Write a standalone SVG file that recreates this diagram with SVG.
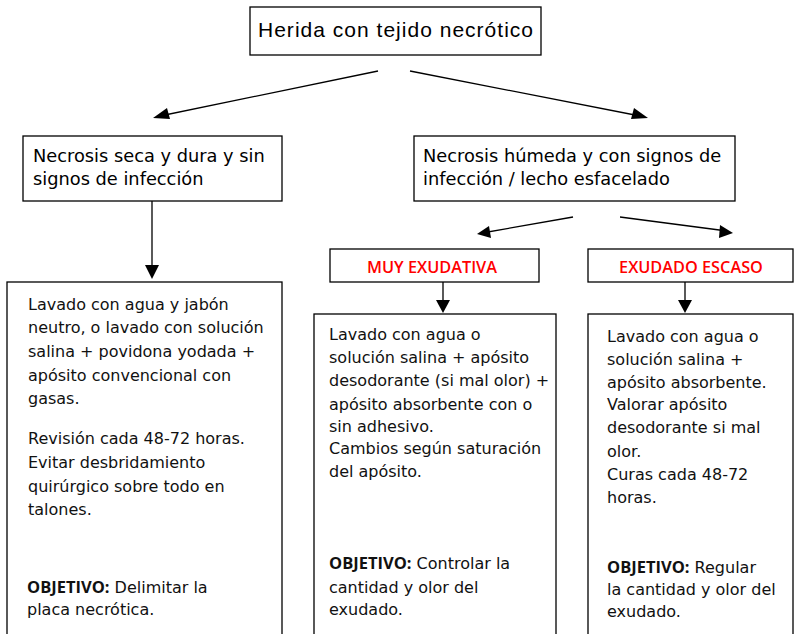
<svg xmlns="http://www.w3.org/2000/svg" width="799" height="634" viewBox="0 0 799 634">
<style>
.box{fill:#fff;stroke:#000;stroke-width:1.3}
.t1{font-family:"Liberation Sans",Arial,sans-serif;font-size:21px;fill:#000}
.t2{font-family:"DejaVu Sans",Verdana,sans-serif;font-size:17.8px;fill:#000}
.body{font-family:"DejaVu Sans",Verdana,sans-serif;font-size:16px;fill:#111}
.b{font-family:"Open Sans","Noto Sans",sans-serif;font-weight:bold;font-size:16.5px}
.red{font-family:"Open Sans","Noto Sans",sans-serif;font-weight:600;font-size:16.3px;fill:#ff0000;text-anchor:middle}
.ln{stroke:#000;stroke-width:1.3;fill:none}
</style>
<rect width="799" height="634" fill="#fff"/>
<g id="connectors">
<line class="ln" x1="378" y1="71" x2="160" y2="116"/>
<path d="M153,118 L167,108 L170,119 z" fill="#000"/>
<line class="ln" x1="410" y1="71" x2="640" y2="116"/>
<path d="M648,118 L631,119 L634,108 z" fill="#000"/>
<line class="ln" x1="152" y1="201" x2="152" y2="266"/>
<path d="M145,265 L159,265 L152,279 z" fill="#000"/>
<line class="ln" x1="573" y1="217" x2="482" y2="233"/>
<path d="M477,234 L489,226 L491,238 z" fill="#000"/>
<line class="ln" x1="620" y1="217" x2="727" y2="231"/>
<path d="M733,233 L719,238 L720,225 z" fill="#000"/>
<line class="ln" x1="443" y1="282" x2="443" y2="300"/>
<path d="M436,300 L450,300 L443,313 z" fill="#000"/>
<line class="ln" x1="685" y1="282" x2="685" y2="300"/>
<path d="M678,300 L692,300 L685,313 z" fill="#000"/>
</g>
<g id="n-herida">
<rect class="box" x="250" y="7" width="291" height="48"/>
<text class="t1" x="258" y="37" textLength="275" lengthAdjust="spacing">Herida con tejido necrótico</text>
</g>
<g id="n-seca">
<rect class="box" x="23" y="136" width="259" height="65"/>
<text class="t2" x="33" y="162">Necrosis seca y dura y sin</text>
<text class="t2" x="33" y="185">signos de infección</text>
</g>
<g id="n-humeda">
<rect class="box" x="414" y="136" width="321" height="65"/>
<text class="t2" x="423" y="162">Necrosis húmeda y con signos de</text>
<text class="t2" x="423" y="185">infección / lecho esfacelado</text>
</g>
<g id="n-muy">
<rect class="box" x="330" y="249" width="209" height="33"/>
<text class="red" x="432" y="273">MUY EXUDATIVA</text>
</g>
<g id="n-escaso">
<rect class="box" x="588" y="249" width="205" height="33"/>
<text class="red" x="691" y="273">EXUDADO ESCASO</text>
</g>
<g id="n-left-body">
<rect class="box" x="7" y="282" width="275" height="360"/>
<text class="body">
<tspan x="28" y="310">Lavado con agua y jabón</tspan>
<tspan x="28" y="333">neutro, o lavado con solución</tspan>
<tspan x="28" y="357">salina + povidona yodada +</tspan>
<tspan x="28" y="381">apósito convencional con</tspan>
<tspan x="28" y="404">gasas.</tspan>
<tspan x="28" y="444">Revisión cada 48-72 horas.</tspan>
<tspan x="28" y="468">Evitar desbridamiento</tspan>
<tspan x="28" y="492">quirúrgico sobre todo en</tspan>
<tspan x="28" y="515">talones.</tspan>
<tspan x="27" y="593"><tspan class="b">OBJETIVO:</tspan> Delimitar la</tspan>
<tspan x="27" y="615">placa necrótica.</tspan>
</text>
</g>
<g id="n-mid-body">
<rect class="box" x="314" y="314" width="242" height="330"/>
<text class="body">
<tspan x="329" y="340">Lavado con agua o</tspan>
<tspan x="329" y="363">solución salina + apósito</tspan>
<tspan x="329" y="386">desodorante (si mal olor) +</tspan>
<tspan x="329" y="410">apósito  absorbente con o</tspan>
<tspan x="329" y="432">sin adhesivo.</tspan>
<tspan x="329" y="454">Cambios según saturación</tspan>
<tspan x="329" y="477">del apósito.</tspan>
<tspan x="329" y="569"><tspan class="b">OBJETIVO:</tspan> Controlar la</tspan>
<tspan x="329" y="593">cantidad y olor del</tspan>
<tspan x="329" y="615">exudado.</tspan>
</text>
</g>
<g id="n-right-body">
<rect class="box" x="588" y="314" width="205" height="330"/>
<text class="body">
<tspan x="607" y="342">Lavado con agua o</tspan>
<tspan x="607" y="365">solución salina +</tspan>
<tspan x="607" y="388">apósito absorbente.</tspan>
<tspan x="607" y="410">Valorar apósito</tspan>
<tspan x="607" y="433">desodorante si mal</tspan>
<tspan x="607" y="457">olor.</tspan>
<tspan x="607" y="480">Curas cada 48-72</tspan>
<tspan x="607" y="503">horas.</tspan>
<tspan x="607" y="573"><tspan class="b">OBJETIVO:</tspan> Regular</tspan>
<tspan x="607" y="595">la cantidad y olor del</tspan>
<tspan x="607" y="617">exudado.</tspan>
</text>
</g>
</svg>
